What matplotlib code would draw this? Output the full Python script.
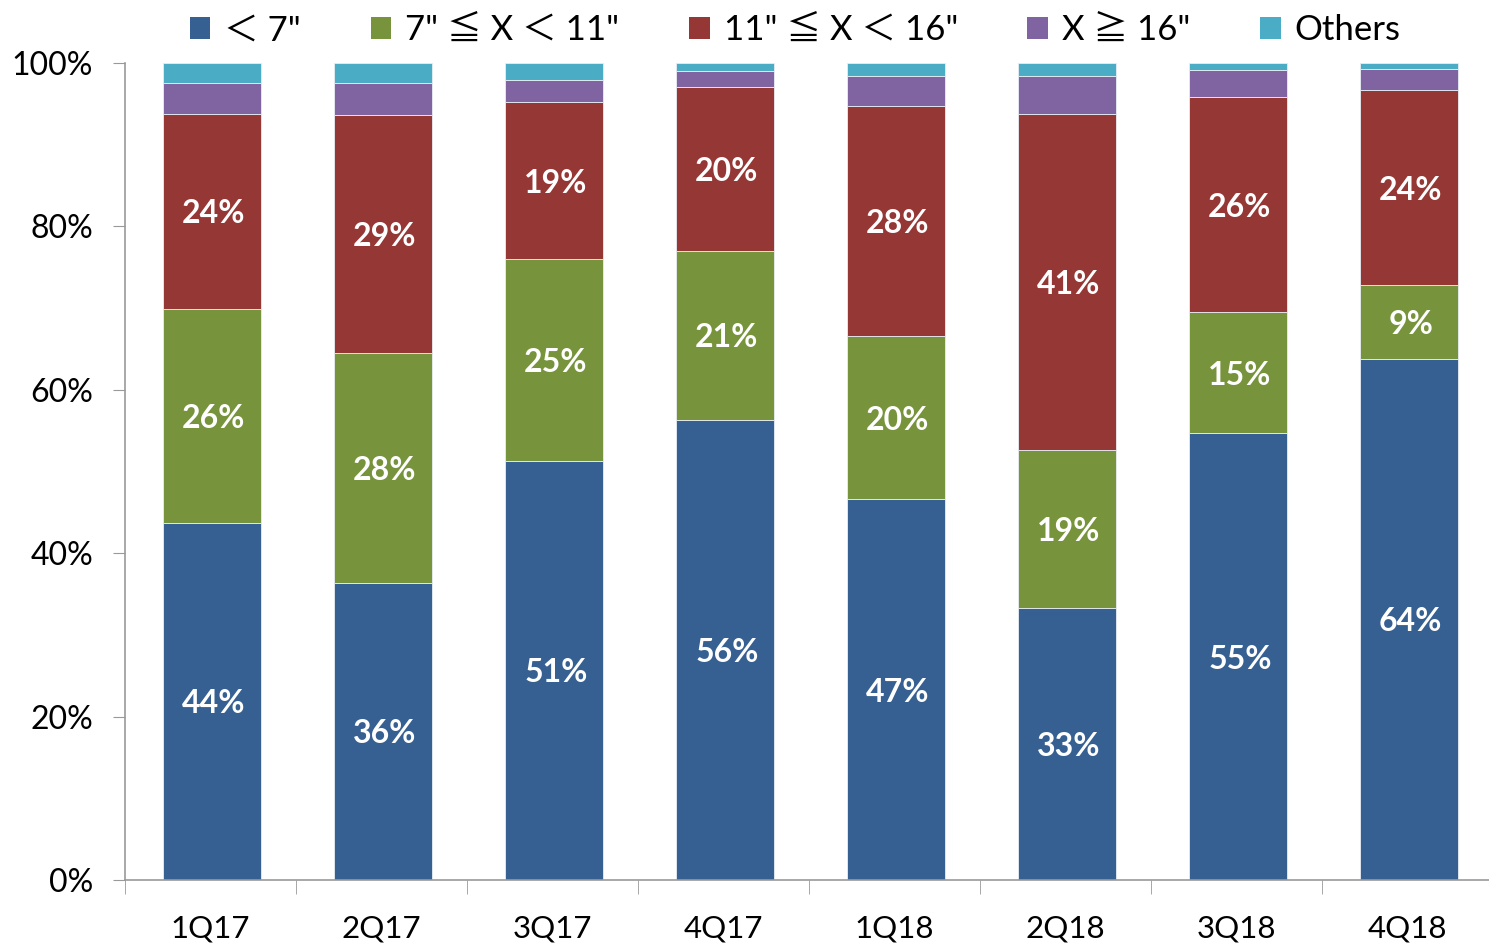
import matplotlib
matplotlib.use("Agg")
import matplotlib.pyplot as plt
import numpy as np
from matplotlib.patches import Patch

plt.rcParams['font.family'] = ['Lato', 'Noto Sans CJK SC', 'DejaVu Sans']

quarters = ['1Q17', '2Q17', '3Q17', '4Q17', '1Q18', '2Q18', '3Q18', '4Q18']

# share of shipments by screen size (%)
lt7 = [43.7, 36.4, 51.3, 56.3, 46.6, 33.3, 54.7, 63.8]
s7_11 = [26.2, 28.1, 24.7, 20.7, 20.0, 19.3, 14.8, 9.0]
s11_16 = [23.9, 29.1, 19.2, 20.1, 28.1, 41.2, 26.3, 23.9]
ge16 = [3.8, 4.0, 2.7, 1.9, 3.7, 4.6, 3.3, 2.6]
others = [2.4, 2.4, 2.1, 1.0, 1.6, 1.6, 0.9, 0.7]

lt7_lbl = ['44%', '36%', '51%', '56%', '47%', '33%', '55%', '64%']
s7_11_lbl = ['26%', '28%', '25%', '21%', '20%', '19%', '15%', '9%']
s11_16_lbl = ['24%', '29%', '19%', '20%', '28%', '41%', '26%', '24%']

series = [lt7, s7_11, s11_16, ge16, others]
labels = [lt7_lbl, s7_11_lbl, s11_16_lbl, None, None]
names = ['＜ 7"', '7" ≦ X ＜ 11"', '11" ≦ X ＜ 16"', 'X ≧ 16"', 'Others']
colors = ['#376092', '#77933C', '#953735', '#8064A2', '#4BACC6']

fig = plt.figure(figsize=(14.89, 9.43), dpi=100)
ax = fig.add_axes([0.0839, 0.0668, 0.9187, 0.8664])

x = np.arange(len(quarters))
bottom = np.zeros(len(quarters))
for vals, lbls, c in zip(series, labels, colors):
    vals = np.array(vals)
    ax.bar(x + 0.01, vals, 0.573, bottom=bottom, color=c, edgecolor='#e8eef4', linewidth=0.6)
    if lbls is not None:
        for xi, b, v, t in zip(x, bottom, vals, lbls):
            ax.text(xi + 0.02, b + v / 2, t, ha='center', va='center_baseline',
                    color='white', fontsize=23, fontweight='bold')
    bottom += vals

ax.set_xlim(-0.5, 7.5)
ax.set_ylim(0, 100)
ax.set_yticks(range(0, 101, 20))
ax.set_yticklabels([f'{v}%' for v in range(0, 101, 20)], fontsize=23)
ax.set_xticks(x)
ax.set_xticklabels(quarters, fontsize=22.5)
ax.set_xticks(np.arange(-0.5, 7.6, 1), minor=True)
ax.tick_params(axis='x', which='major', length=0, pad=25)
ax.tick_params(axis='x', which='minor', length=10, color='#999999', direction='out')
ax.tick_params(axis='y', length=9, color='#999999', pad=14)
for s in ['top', 'right']:
    ax.spines[s].set_visible(False)
for s in ['left', 'bottom']:
    ax.spines[s].set_color('#999999')
    ax.spines[s].set_linewidth(1.2)

handles = [Patch(facecolor=c, edgecolor='none') for c in colors]
fig.legend(handles, names, loc='upper center', bbox_to_anchor=(0.534, 1.018), ncol=5,
           frameon=False, fontsize=25, handlelength=0.6, handleheight=0.6,
           handletextpad=0.4, columnspacing=2.0)

fig.savefig('out.png', dpi=100)
